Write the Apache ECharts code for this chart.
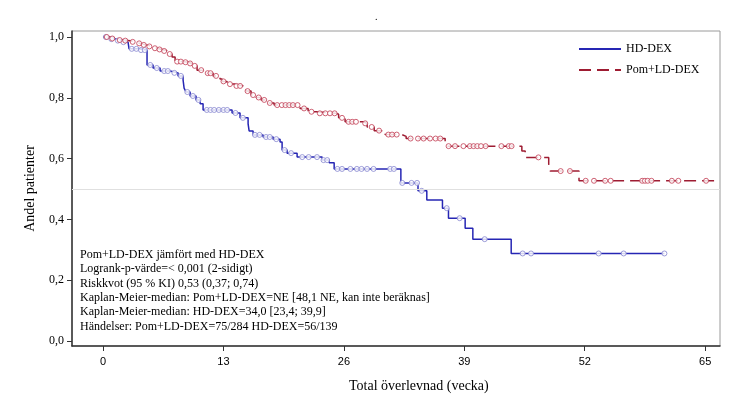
<!DOCTYPE html>
<html>
<head>
<meta charset="utf-8">
<script src="https://cdn.jsdelivr.net/npm/echarts@6/dist/echarts.min.js"></script>
<style>html,body{margin:0;padding:0;background:#fff;}#c{width:753px;height:400px;}</style>
</head>
<body>
<div id="c"></div>
<script>
// HD-DEX (event times in weeks, survival after each drop)
const hdTimes = [0, 0.76, 1.40, 2.05, 2.70, 2.81, 3.78, 4.75, 5.40, 6.16, 7.24, 8.10, 8.64, 8.75, 8.96, 9.40, 10.04, 10.48, 10.80, 13.93, 14.79, 15.66, 15.77, 16.20, 17.28, 18.36, 19.11, 19.33, 19.87, 20.95, 23.65, 24.41, 24.95, 32.15, 34.00, 34.95, 36.64, 37.29, 39.09, 39.92, 44.06];
const hdSurv = [1, 0.993, 0.988, 0.983, 0.977, 0.961, 0.957, 0.908, 0.898, 0.888, 0.882, 0.872, 0.859, 0.832, 0.819, 0.806, 0.793, 0.780, 0.760, 0.750, 0.734, 0.714, 0.691, 0.678, 0.671, 0.664, 0.655, 0.628, 0.618, 0.605, 0.595, 0.586, 0.566, 0.520, 0.494, 0.464, 0.437, 0.404, 0.371, 0.335, 0.288];
const hdEnd = 60.6;
const hdCensor = [0.3, 0.9, 1.6, 2.2, 3.1, 3.6, 4.1, 4.5, 5.1, 5.8, 6.6, 7.0, 7.7, 8.4, 9.1, 9.7, 10.3, 11.2, 11.6, 12.0, 12.5, 13.0, 13.4, 14.3, 15.1, 16.4, 16.9, 17.6, 18.0, 18.7, 19.6, 20.3, 21.5, 22.2, 23.1, 23.8, 24.2, 25.3, 25.8, 26.7, 27.4, 27.9, 28.5, 29.2, 31.0, 31.4, 32.3, 33.3, 33.9, 34.4, 37.1, 38.5, 41.2, 45.3, 46.2, 53.5, 56.2, 60.6];

// Pom+LD-DEX
const pomTimes = [0, 0.76, 1.51, 2.16, 2.92, 3.46, 4.00, 4.64, 5.29, 5.83, 6.37, 7.02, 7.45, 7.78, 8.64, 9.18, 9.61, 10.15, 11.02, 11.88, 12.63, 12.85, 13.39, 14.25, 15.12, 15.44, 15.98, 16.52, 17.06, 17.82, 18.47, 21.27, 22.14, 23.00, 25.16, 25.43, 26.13, 28.08, 28.51, 29.27, 30.45, 32.26, 32.72, 36.93, 37.11, 45.21, 45.57, 48.11, 48.27, 51.38];
const pomSurv = [1, 0.995, 0.990, 0.988, 0.984, 0.979, 0.974, 0.969, 0.963, 0.959, 0.954, 0.944, 0.934, 0.919, 0.917, 0.913, 0.905, 0.891, 0.881, 0.872, 0.862, 0.854, 0.845, 0.839, 0.831, 0.822, 0.809, 0.801, 0.793, 0.783, 0.776, 0.765, 0.754, 0.749, 0.746, 0.734, 0.721, 0.716, 0.704, 0.692, 0.679, 0.673, 0.666, 0.650, 0.641, 0.625, 0.604, 0.582, 0.559, 0.527];
const pomEnd = 66.4;
const pomCensor = [0.4, 1.0, 1.8, 2.4, 3.2, 3.9, 4.4, 5.0, 5.6, 6.1, 6.6, 7.2, 8.0, 8.4, 8.9, 9.4, 9.9, 10.6, 11.3, 11.6, 12.2, 13.0, 13.7, 14.4, 14.8, 15.6, 16.2, 16.8, 17.4, 18.0, 18.8, 19.3, 19.7, 20.1, 20.5, 21.0, 21.7, 22.5, 23.4, 24.0, 24.5, 25.0, 25.8, 26.5, 26.9, 27.3, 28.3, 29.0, 29.8, 30.8, 31.2, 31.7, 33.2, 34.0, 34.6, 35.3, 35.9, 36.4, 37.3, 38.0, 38.9, 39.6, 40.0, 40.4, 40.8, 41.3, 43.0, 43.8, 44.1, 47.0, 49.4, 50.4, 52.1, 53.0, 54.2, 54.8, 58.2, 58.5, 58.8, 59.2, 61.4, 62.1, 65.1];

const xTicks = [0, 13, 26, 39, 52, 65];
const yTicks = [0, 0.2, 0.4, 0.6, 0.8, 1.0];
const seriesNames = ['HD-DEX', 'Pom+LD-DEX'];
const annotationLines = [
  'Pom+LD-DEX jämfört med HD-DEX',
  'Logrank-p-värde=< 0,001 (2-sidigt)',
  'Riskkvot (95 % KI) 0,53 (0,37; 0,74)',
  'Kaplan-Meier-median: Pom+LD-DEX=NE [48,1 NE, kan inte beräknas]',
  'Kaplan-Meier-median: HD-DEX=34,0 [23,4; 39,9]',
  'Händelser: Pom+LD-DEX=75/284 HD-DEX=56/139'
];
const xTitle = 'Total överlevnad (vecka)';
const yTitle = 'Andel patienter';

function stepData(times, surv, end) {
  const d = times.map((t, i) => [t, surv[i]]);
  d.push([end, surv[surv.length - 1]]);
  return d;
}
function survAt(times, surv, t) {
  let s = surv[0];
  for (let i = 0; i < times.length; i++) { if (times[i] <= t) s = surv[i]; }
  return s;
}
function censorData(times, surv, cens) {
  return cens.map(t => [t, survAt(times, surv, t)]);
}

const serif = 'Liberation Serif';
const chart = echarts.init(document.getElementById('c'), null, {renderer: 'canvas'});

const graphics = annotationLines.map((txt, i) => ({
  type: 'text', left: 80, top: 249 + i * 14.3,
  style: {text: txt, font: '12px "Liberation Serif"', fill: '#000'}
}));
graphics.push({type: 'text', left: 349, top: 379, style: {text: xTitle, font: '14px "Liberation Serif"', fill: '#000'}});
graphics.push({type: 'text', left: 375, top: 12, style: {text: '.', font: '10px "Liberation Serif"', fill: '#000'}});

chart.setOption({
  animation: false,
  backgroundColor: '#fff',
  graphic: graphics,
  grid: {left: 72, right: 33, top: 31, bottom: 54, show: true, borderColor: '#9a9a9a', borderWidth: 1},
  legend: {
    data: seriesNames, orient: 'vertical', left: 573, top: 38, itemWidth: 42, itemHeight: 14, itemGap: 9,
    itemStyle: {opacity: 0},
    textStyle: {fontFamily: serif, fontSize: 12, color: '#000'}
  },
  xAxis: {
    type: 'value', min: -3.35, max: 66.6,
    axisLine: {show: true, onZero: false, lineStyle: {color: '#333', width: 1.5}},
    axisTick: {show: true, customValues: xTicks, length: 5, lineStyle: {color: '#333'}},
    axisLabel: {customValues: xTicks, margin: 10, fontFamily: 'Liberation Sans', fontSize: 11, color: '#000'},
    splitLine: {show: false}
  },
  yAxis: {
    type: 'value', min: -0.0164, max: 1.0197,
    name: yTitle, nameLocation: 'middle', nameGap: 35,
    nameTextStyle: {fontFamily: serif, fontSize: 14, color: '#000'},
    axisLine: {show: true, onZero: false, lineStyle: {color: '#333', width: 1.5}},
    axisTick: {show: true, customValues: yTicks, length: 5, lineStyle: {color: '#333'}},
    axisLabel: {customValues: yTicks, margin: 8, fontFamily: serif, fontSize: 12, color: '#000',
      formatter: v => v.toFixed(1).replace('.', ',')},
    splitLine: {show: false}
  },
  series: [
    {
      name: seriesNames[0], type: 'line', step: 'end', symbol: 'none', z: 3,
      data: stepData(hdTimes, hdSurv, hdEnd),
      lineStyle: {color: '#2626b4', width: 1.5},
      itemStyle: {color: '#2626b4'},
      markLine: {silent: true, symbol: 'none', label: {show: false},
        lineStyle: {color: '#e0e0e0', type: 'solid', width: 1}, data: [{yAxis: 0.5}]}
    },
    {
      name: seriesNames[1], type: 'line', step: 'end', symbol: 'none', z: 3,
      data: stepData(pomTimes, pomSurv, pomEnd),
      lineStyle: {color: '#9e1c32', width: 1.5, type: [12, 6]},
      itemStyle: {color: '#9e1c32'}
    },
    {
      name: 'hdc', type: 'scatter', symbol: 'circle', symbolSize: 5, z: 4,
      data: censorData(hdTimes, hdSurv, hdCensor),
      itemStyle: {color: '#ffffff', borderColor: '#8585cf', borderWidth: 1}
    },
    {
      name: 'pomc', type: 'scatter', symbol: 'circle', symbolSize: 5, z: 4,
      data: censorData(pomTimes, pomSurv, pomCensor),
      itemStyle: {color: '#ffffff', borderColor: '#c23c52', borderWidth: 1}
    }
  ]
});
</script>
</body>
</html>
